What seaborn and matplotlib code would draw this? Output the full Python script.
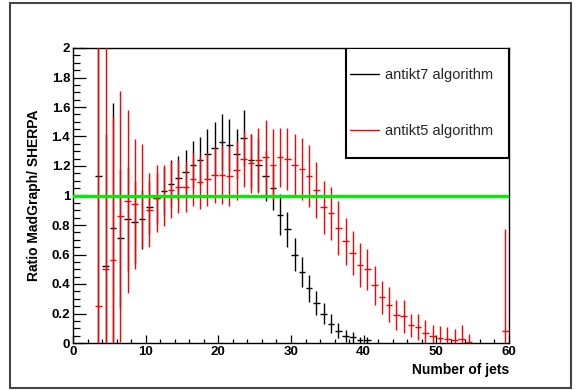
import numpy as np
import pandas as pd
import matplotlib
matplotlib.use("Agg")
import matplotlib.pyplot as plt
from matplotlib.lines import Line2D
from matplotlib.patches import Rectangle
from matplotlib.ticker import MultipleLocator, FormatStrFormatter
import seaborn as sns

# ---------------- data ----------------
black_bins = [3.5 + i for i in range(38)]  # 3.5 .. 40.5
black_vals = [1.13, 0.52, 0.78, 0.71, 0.84, 0.82, 0.84, 0.92, 0.98, 1.03,
              1.08, 1.12, 1.16, 1.21, 1.24, 1.28, 1.32, 1.36, 1.34, 1.28,
              1.39, 1.24, 1.21, 1.13, 1.05, 0.87, 0.77, 0.60, 0.48, 0.37,
              0.27, 0.20, 0.13, 0.083, 0.047, 0.038, 0.018, 0.018]
black_errs = [1.3, 0.9, 0.85, 0.47, 0.35, 0.28, 0.20, 0.18, 0.17, 0.16,
              0.16, 0.15, 0.15, 0.16, 0.16, 0.17, 0.18, 0.19, 0.18, 0.17,
              0.19, 0.18, 0.18, 0.17, 0.15, 0.14, 0.12, 0.11, 0.10, 0.09,
              0.08, 0.07, 0.065, 0.05, 0.04, 0.035, 0.025, 0.025]

red_bins = [3.5 + i for i in range(52)] + [59.5]  # 3.5 .. 54.5, 59.5
red_vals = [0.25, 0.50, 0.56, 0.86, 0.96, 0.94, 1.00, 0.90, 0.98, 1.00,
            1.04, 1.06, 1.055, 1.11, 1.09, 1.11, 1.14, 1.14, 1.13, 1.17,
            1.245, 1.22, 1.24, 1.26, 1.21, 1.26, 1.25, 1.21, 1.18, 1.13,
            1.04, 0.92, 0.88, 0.78, 0.69, 0.61, 0.53, 0.50, 0.39, 0.31,
            0.26, 0.19, 0.18, 0.12, 0.11, 0.07, 0.045, 0.034, 0.025, 0.018,
            0.025, 0.004, 0.08]
red_errs = [2.0, 1.8, 0.97, 0.85, 0.62, 0.44, 0.35, 0.25, 0.23, 0.21,
            0.19, 0.18, 0.17, 0.18, 0.18, 0.18, 0.19, 0.20, 0.20, 0.20,
            0.19, 0.20, 0.22, 0.25, 0.24, 0.20, 0.21, 0.21, 0.21, 0.21,
            0.19, 0.18, 0.18, 0.18, 0.16, 0.15, 0.15, 0.14, 0.13, 0.11,
            0.12, 0.10, 0.11, 0.08, 0.09, 0.086, 0.08, 0.083, 0.085, 0.077,
            0.10, 0.057, 0.69]

labels = ["antikt7 algorithm", "antikt5 algorithm"]
xlabel = "Number of jets"
ylabel = "Ratio MadGraph/ SHERPA"
ref_value = 1.0

# ---------------- style ----------------
sns.set_theme(style="white")
plt.rcParams["font.family"] = ["Liberation Sans", "DejaVu Sans"]

fig = plt.figure(figsize=(5.76, 3.90), dpi=100)
ax = fig.add_axes([73 / 576, 1 - 343 / 390, (509 - 73) / 576, (343 - 48) / 390])

df_b = pd.DataFrame({"x": black_bins, "y": black_vals, "err": black_errs})
df_r = pd.DataFrame({"x": red_bins, "y": red_vals, "err": red_errs})

ax.errorbar(df_b["x"], df_b["y"], yerr=df_b["err"], xerr=0.45, fmt="none",
            ecolor="black", elinewidth=1.0, capsize=0, zorder=3)
ax.errorbar(df_r["x"], df_r["y"], yerr=df_r["err"], xerr=0.45, fmt="none",
            ecolor="#ff0000", elinewidth=1.0, capsize=0, zorder=4)

ax.axhline(ref_value, color="#00ee00", lw=2.3, zorder=5)

ax.set_xlim(0, 60)
ax.set_ylim(0, 2)

ax.xaxis.set_major_locator(MultipleLocator(10))
ax.xaxis.set_minor_locator(MultipleLocator(2))
ax.yaxis.set_major_locator(MultipleLocator(0.2))
ax.yaxis.set_minor_locator(MultipleLocator(0.05))
ax.yaxis.set_major_formatter(FormatStrFormatter("%g"))

ax.tick_params(axis="x", which="major", direction="in", length=5.8, width=0.9,
               color="black", pad=2.5, labelsize=9.5, bottom=True, top=False)
ax.tick_params(axis="x", which="minor", direction="in", length=2.9, width=0.9,
               color="black", bottom=True, top=False)
ax.tick_params(axis="y", which="major", direction="in", length=9.4, width=0.9,
               color="black", pad=2, labelsize=9.5, left=True, right=False)
ax.tick_params(axis="y", which="minor", direction="in", length=5.0, width=0.9,
               color="black", left=True, right=False)
for lab in ax.get_xticklabels() + ax.get_yticklabels():
    lab.set_fontweight("bold")
    lab.set_color("black")

for s in ax.spines.values():
    s.set_color("black")
    s.set_linewidth(1.0)

ax.set_xlabel(xlabel, fontsize=10, fontweight="bold", loc="right", labelpad=3,
              color="black")
ax.set_ylabel(ylabel, fontsize=10, fontweight="bold", color="black")
ax.yaxis.set_label_coords(-0.074, 0.5)

# legend box
ax.add_patch(Rectangle((0.626, 0.627), 0.374, 0.373, transform=ax.transAxes,
                       facecolor="white", edgecolor="black", lw=1.5, zorder=6))
handles = [Line2D([], [], color="black", lw=1.0),
           Line2D([], [], color="#ff0000", lw=1.0)]
leg = ax.legend(handles, labels, loc="center left",
                bbox_to_anchor=(0.626, 0.8135), frameon=False,
                fontsize=10.5, handlelength=1.95, handletextpad=0.45,
                labelspacing=2.85, borderpad=0.3, borderaxespad=0.0)
leg.set_zorder(7)

# outer canvas frame
fig.patches.append(Rectangle((10 / 576, 2 / 390), 561 / 576, 385 / 390,
                             transform=fig.transFigure, fill=False,
                             edgecolor="#444444", lw=1.5))

fig.savefig("out.png", dpi=100, facecolor="white")
